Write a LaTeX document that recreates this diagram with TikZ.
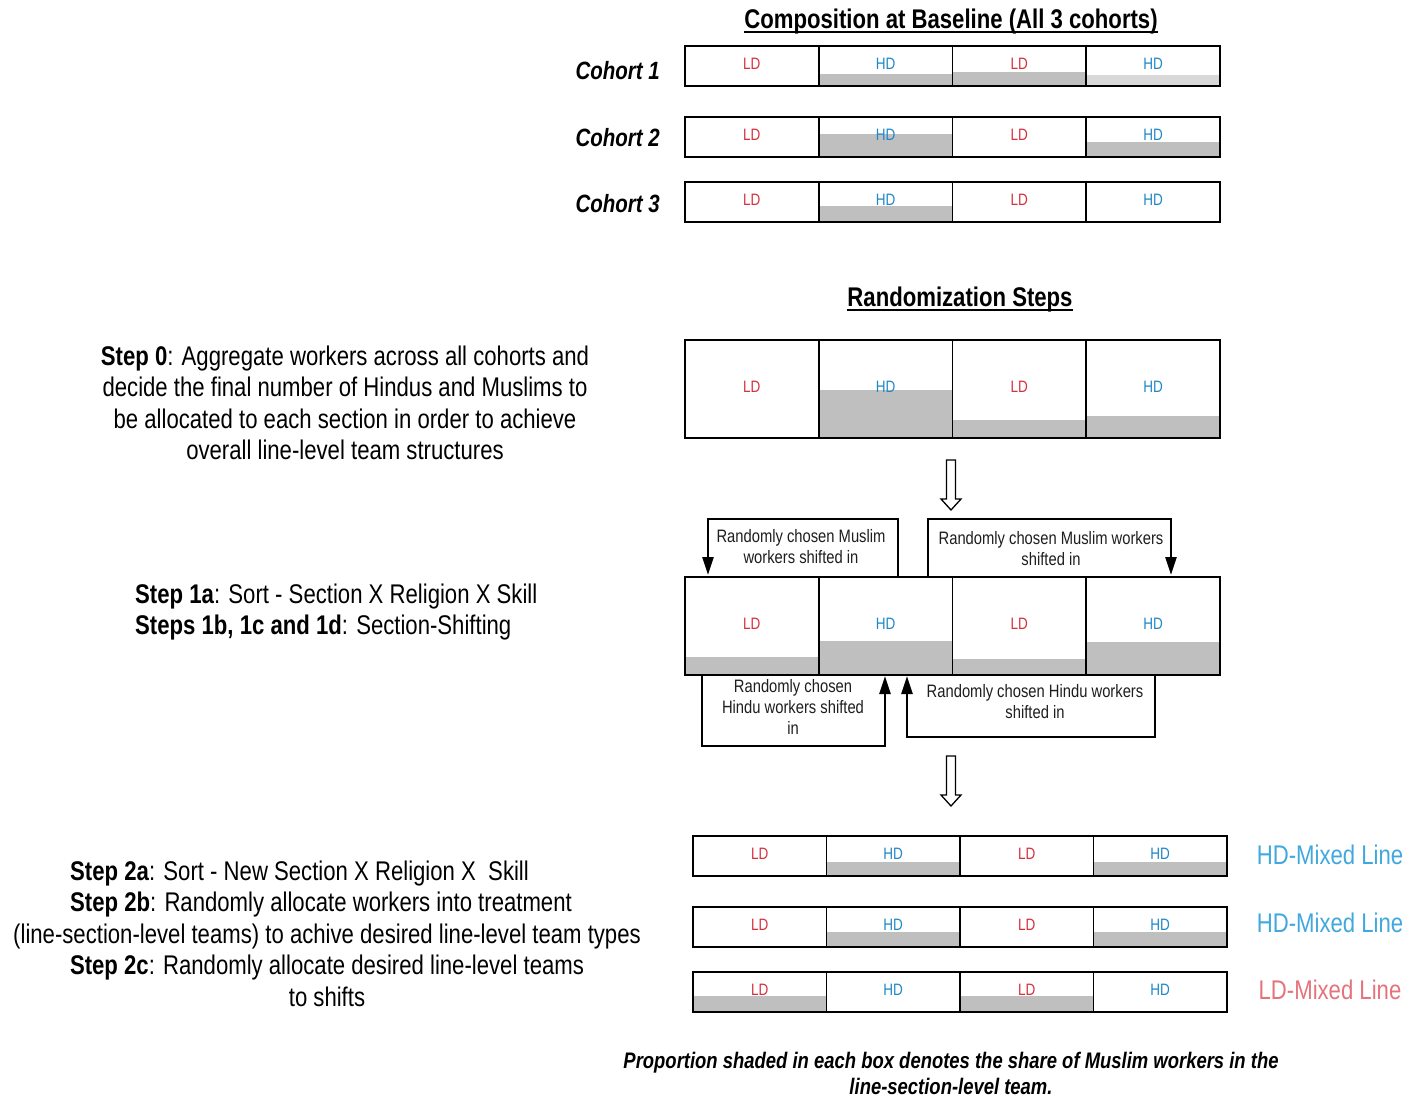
\documentclass[tikz,border=0pt]{standalone}
\usepackage{fontspec}
\setmainfont{Liberation Sans}[FakeStretch=0.82]
\usetikzlibrary{arrows.meta}
\definecolor{ldred}{RGB}{214,48,62}
\definecolor{hdblue}{RGB}{30,136,200}
\definecolor{hdmix}{RGB}{65,168,222}
\definecolor{ldmix}{RGB}{228,115,124}
\definecolor{mgray}{RGB}{191,191,191}
\definecolor{mgraylt}{RGB}{217,217,217}
\definecolor{calltext}{RGB}{30,30,30}

% #1 name, #2 x0, #3 y0, #4 cell width, #5 height, #6 list of shade-height/colour
\newcommand\teamrow[6]{%
  \foreach \s/\c [count=\i from 0] in {#6}{%
    \fill[fill=\c] ({#2+\i*#4},{#3+#5}) rectangle ({#2+(\i+1)*#4},{#3+#5-\s});}%
  \foreach \lab/\col [count=\i from 0] in {LD/ldred,HD/hdblue,LD/ldred,HD/hdblue}{%
    \node[cell,text=\col,minimum width=#4,minimum height=#5] (#1-\i) at ({#2+\i*#4},#3) {\lab};}%
}
% #1 x, #2 top, #3 tip
\newcommand\hollowarrow[3]{%
  \draw[line width=1.3pt,fill=white,line join=miter]
    ({#1-4.5},#2) -- ({#1+4.5},#2) -- ({#1+4.5},{#3-11}) -- ({#1+10},{#3-11})
    -- (#1,#3) -- ({#1-10},{#3-11}) -- ({#1-4.5},{#3-11}) -- cycle;}

\begin{document}
\begin{tikzpicture}[x=1pt,y=-1pt,
  cell/.style={draw=black,line width=1.8pt,inner sep=0pt,anchor=north west,
    text height=12pt,text depth=4pt,
    font=\fontsize{16.5}{19}\selectfont},
  heading/.style={inner sep=0pt,anchor=base,font=\fontsize{27}{31.5}\selectfont\bfseries},
  cohortlab/.style={inner sep=0pt,anchor=east,font=\fontsize{25}{30}\selectfont\bfseries\itshape},
  steptext/.style={inner sep=0pt,font=\fontsize{27}{31.5}\selectfont},
  calltxt/.style={inner sep=0pt,anchor=north,align=center,text=calltext,
    font=\fontsize{18}{21}\selectfont},
  conn/.style={line width=2.5pt,line join=miter,-{Triangle[length=18pt,width=11pt]}},
  mixlab/.style={inner sep=0pt,font=\fontsize{27}{31.5}\selectfont},
  note/.style={inner sep=0pt,anchor=north,align=center,
    font=\fontsize{22.5}{26}\selectfont\bfseries\itshape}
]
\fill[white] (0,0) rectangle (1418,1097);
\useasboundingbox (0,0) rectangle (1418,1097);

% ---------- headings ----------
\node[heading] (t1) at (951,28.5) {Composition at Baseline (All 3 cohorts)};
\draw[line width=2.2pt] ([yshift=-3.5pt]t1.base west) -- ([yshift=-3.5pt]t1.base east);
\node[heading] (t2) at (960,306.5) {Randomization Steps};
\draw[line width=2.2pt] ([yshift=-3.5pt]t2.base west) -- ([yshift=-3.5pt]t2.base east);

% ---------- cohorts ----------
\node[cohortlab] (co1) at (660,71) {Cohort 1};
\node[cohortlab] (co2) at (660,138) {Cohort 2};
\node[cohortlab] (co3) at (660,204) {Cohort 3};
\teamrow{ca}{684}{45}{133.75}{40}{0/mgray,10.8/mgray,13.1/mgray,9.7/mgraylt}
\teamrow{cb}{684}{116}{133.75}{40}{0/mgray,22/mgray,0/mgray,14.3/mgray}
\teamrow{cc}{684}{181}{133.75}{40}{0/mgray,15/mgray,0/mgray,0/mgray}

% ---------- step 0 ----------
\node[steptext,align=center,anchor=north] (s0t) at (345,345.5)
  {\textbf{Step 0}: Aggregate workers across all cohorts and\\
   decide the final number of Hindus and Muslims to\\
   be allocated to each section in order to achieve\\
   overall line-level team structures};
\teamrow{sa}{684}{339}{133.75}{98}{0/mgray,46.8/mgray,16.7/mgray,21.4/mgray}

\hollowarrow{951}{460}{510}

% ---------- step 1 ----------
\node[steptext,align=left,anchor=north west] (s1t) at (135,583.5)
  {\textbf{Step 1a}: Sort - Section X Religion X Skill\\
   \textbf{Steps 1b, 1c and 1d}: Section-Shifting};
\teamrow{sb}{684}{576}{133.75}{98}{17.4/mgray,32.9/mgray,15.5/mgray,31.6/mgray}

\node[calltxt] (m1) at (801,529.5) {Randomly chosen Muslim\\workers shifted in};
\node[calltxt] (m2) at (1051,531.5) {Randomly chosen Muslim workers\\shifted in};
\node[calltxt] (h1) at (793,679.5) {Randomly chosen\\Hindu workers shifted\\in};
\node[calltxt] (h2) at (1035,684) {Randomly chosen Hindu workers\\shifted in};

\coordinate (m1s) at (898,576); \coordinate (m1e) at (708,575);
\coordinate (m2s) at (928,576); \coordinate (m2e) at (1171,575);
\coordinate (h1s) at (702,674); \coordinate (h1e) at (885,676);
\coordinate (h2s) at (1155,674); \coordinate (h2e) at (907,676);
\draw[conn] (m1s) -- (898,519) -- (708,519) -- (m1e);
\draw[conn] (m2s) -- (928,519) -- (1171,519) -- (m2e);
\draw[conn] (h1s) -- (702,746) -- (885,746) -- (h1e);
\draw[conn] (h2s) -- (1155,737) -- (907,737) -- (h2e);

\hollowarrow{951}{756}{806}

% ---------- step 2 ----------
\node[steptext,align=left,anchor=north west] (s2a) at (70,860.5)
  {\textbf{Step 2a}: Sort - New Section X Religion X\ \ Skill\\
   \textbf{Step 2b}: Randomly allocate workers into treatment};
\node[steptext,align=center,anchor=north] (s2b) at (327,923.5)
  {(line-section-level teams) to achive desired line-level team types\\
   \textbf{Step 2c}: Randomly allocate desired line-level teams\\
   to shifts};

\teamrow{ra}{692}{835}{133.5}{40}{0/mgray,13/mgray,0/mgray,13/mgray}
\teamrow{rb}{692}{906}{133.5}{40}{0/mgray,14/mgray,0/mgray,14/mgray}
\teamrow{rc}{692}{971}{133.5}{40}{14.6/mgray,0/mgray,14.6/mgray,0/mgray}

\node[mixlab,text=hdmix] (lab1) at (1330,855) {HD-Mixed Line};
\node[mixlab,text=hdmix] (lab2) at (1330,923) {HD-Mixed Line};
\node[mixlab,text=ldmix] (lab3) at (1330,990) {LD-Mixed Line};

% ---------- note ----------
\node[note] (nt) at (951,1051.7)
  {Proportion shaded in each box denotes the share of Muslim workers in the\\
   line-section-level team.};
\end{tikzpicture}
\end{document}
